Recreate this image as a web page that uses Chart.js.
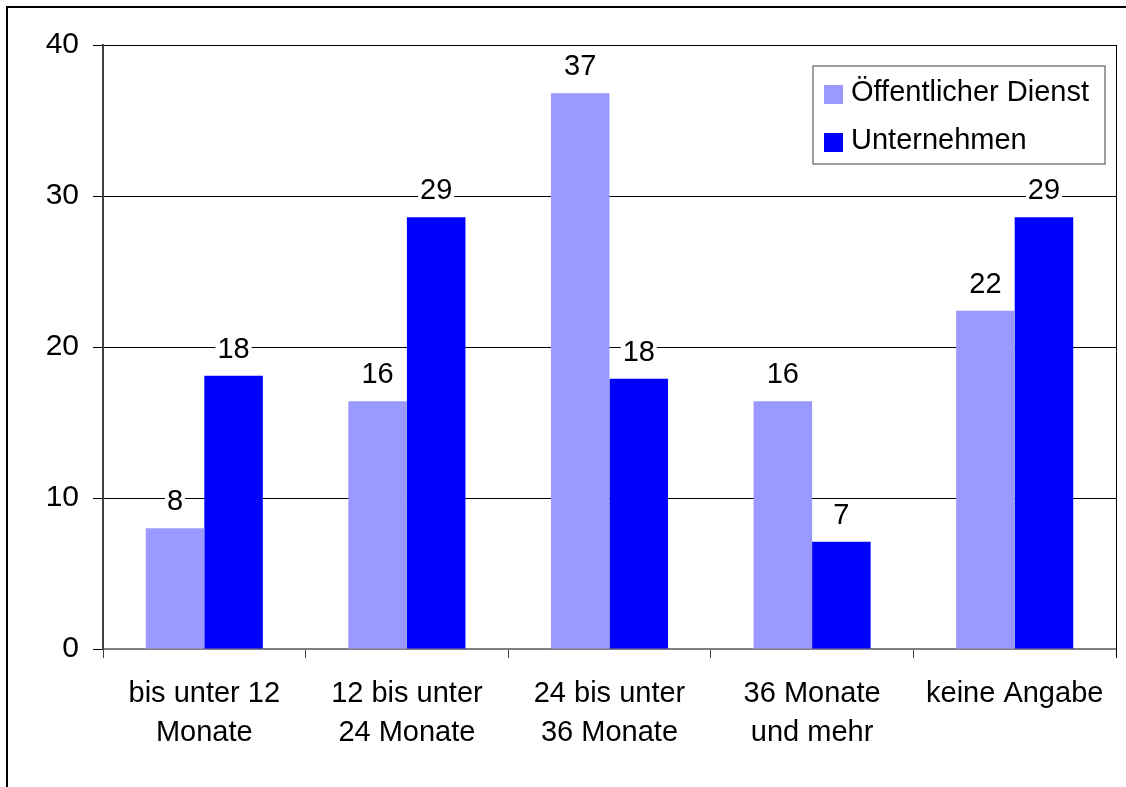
<!DOCTYPE html>
<html>
<head>
<meta charset="utf-8">
<style>
  html, body { margin: 0; padding: 0; background: #fff; }
  #wrap { width: 1126px; height: 787px; position: relative; }
</style>
<script src="https://cdn.jsdelivr.net/npm/chart.js@4/dist/chart.umd.min.js"></script>
</head>
<body>
<div id="wrap"><canvas id="chart" width="1126" height="787"></canvas></div>
<script>
"use strict";

const categories = [
  ["bis unter 12", "Monate"],
  ["12 bis unter", "24 Monate"],
  ["24 bis unter", "36 Monate"],
  ["36 Monate", "und mehr"],
  ["keine Angabe"],
];
const seriesNames = ["Öffentlicher Dienst", "Unternehmen"];
const oeffentlich = [8.0, 16.4, 36.8, 16.4, 22.4];
const unternehmen = [18.1, 28.6, 17.9, 7.1, 28.6];
const yTicks = [0, 10, 20, 30, 40];

const FONT = "'Liberation Sans', Arial, sans-serif";
const colors = ["#9999ff", "#0000ff"];

// frame around the whole picture + right edge of plot
const framePlugin = {
  id: "frame",
  beforeDraw(chart) {
    const ctx = chart.ctx;
    ctx.save();
    ctx.fillStyle = "#fff";
    ctx.fillRect(0, 0, chart.width, chart.height);
    ctx.fillStyle = "#000";
    ctx.fillRect(6, 6, chart.width - 6, 2);
    ctx.fillRect(6, 6, 2, chart.height - 6);
    ctx.restore();
  },
  afterDraw(chart) {
    const a = chart.chartArea;
    const ctx = chart.ctx;
    ctx.save();
    ctx.strokeStyle = "#000";
    ctx.lineWidth = 1;
    ctx.beginPath();
    ctx.moveTo(a.right + 0.5, a.top);
    ctx.lineTo(a.right + 0.5, a.bottom + 9);
    ctx.stroke();
    ctx.restore();
  },
};

// value labels with white background above each bar
const valueLabels = {
  id: "valueLabels",
  afterDatasetsDraw(chart) {
    const ctx = chart.ctx;
    ctx.save();
    ctx.font = "29px " + FONT;
    ctx.textAlign = "center";
    ctx.textBaseline = "middle";
    chart.data.datasets.forEach((ds, i) => {
      chart.getDatasetMeta(i).data.forEach((bar, j) => {
        const txt = String(Math.round(ds.data[j]));
        const w = ctx.measureText(txt).width;
        const y = bar.y - 27;
        ctx.fillStyle = "#fff";
        ctx.fillRect(bar.x - w / 2 - 2, y - 14, w + 4, 28);
        ctx.fillStyle = "#000";
        ctx.fillText(txt, bar.x, y + 1);
      });
    });
    ctx.restore();
  },
};

// boxed legend in the upper right of the plot
const boxLegend = {
  id: "boxLegend",
  afterDraw(chart) {
    const ctx = chart.ctx;
    const x = 813, y = 66, w = 292, h = 98;
    ctx.save();
    ctx.fillStyle = "#fff";
    ctx.fillRect(x, y, w, h);
    ctx.strokeStyle = "#808080";
    ctx.lineWidth = 1.5;
    ctx.strokeRect(x, y, w, h);
    ctx.font = "29px " + FONT;
    ctx.textBaseline = "middle";
    chart.data.datasets.forEach((ds, i) => {
      const cy = y + 27 + i * 48;
      ctx.fillStyle = ds.backgroundColor;
      ctx.fillRect(x + 11, cy - 8, 19, 19);
      ctx.fillStyle = "#000";
      ctx.fillText(ds.label, x + 38, cy);
    });
    ctx.restore();
  },
};

new Chart(document.getElementById("chart").getContext("2d"), {
  type: "bar",
  data: {
    labels: categories,
    datasets: [
      { label: seriesNames[0], data: oeffentlich, backgroundColor: colors[0] },
      { label: seriesNames[1], data: unternehmen, backgroundColor: colors[1] },
    ],
  },
  options: {
    responsive: false,
    animation: false,
    devicePixelRatio: 1,
    layout: { padding: { top: 45, right: 10, left: 0, bottom: 0 } },
    datasets: { bar: { categoryPercentage: 0.578, barPercentage: 1.0 } },
    plugins: { legend: { display: false }, tooltip: { enabled: false } },
    scales: {
      x: {
        grid: {
          offset: true,
          drawOnChartArea: false,
          drawTicks: true,
          tickLength: 9,
          color: "#404040",
        },
        border: { color: "#808080", width: 2 },
        ticks: {
          color: "#000",
          font: { family: FONT, size: 29, lineHeight: 1.35 },
          padding: 16,
          maxRotation: 0,
          autoSkip: false,
        },
        afterFit(scale) { scale.height = 138; },
      },
      y: {
        min: 0,
        max: 40,
        afterBuildTicks(scale) { scale.ticks = yTicks.map(v => ({ value: v })); },
        grid: { color: "#000", lineWidth: 1, tickLength: 10 },
        border: { color: "#404040", width: 2 },
        ticks: {
          color: "#000",
          font: { family: FONT, size: 30 },
          padding: 14,
        },
        afterFit(scale) { scale.width = 103; },
      },
    },
  },
  plugins: [framePlugin, valueLabels, boxLegend],
});
</script>
</body>
</html>
